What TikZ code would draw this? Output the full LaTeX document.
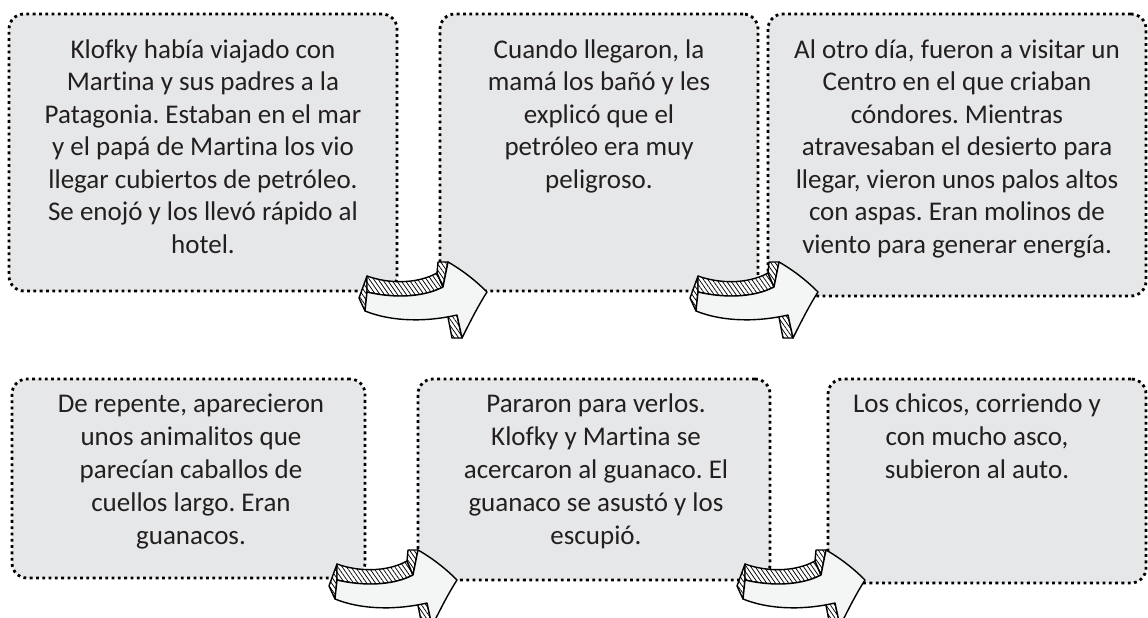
\documentclass[tikz,border=0pt]{standalone}
\usepackage{fontspec}
\setmainfont{Carlito}[Ligatures=CommonOff]
\usetikzlibrary{patterns.meta}
\frenchspacing
\definecolor{boxgray}{HTML}{E6E7E8}
\definecolor{arrowwhite}{HTML}{F4F5F5}
\definecolor{inkgray}{HTML}{231F20}
\tikzset{
  storybox/.style={draw=black, fill=boxgray, line width=2.8pt, dash pattern=on 2.8pt off 3.5pt, rounded corners=15pt, inner sep=0pt},
  storytext/.style={anchor=north, inner sep=0pt, align=center, text=inkgray, font=\fontsize{27}{32.5}\selectfont},
  storytexttwo/.style={storytext, font=\fontsize{27}{33}\selectfont},
  arrowedge/.style={draw=black, line width=1.4pt, line join=round},
  sideface/.style={arrowedge, postaction={pattern={Lines[angle=-55,distance=3.6pt,line width=0.75pt]}}, fill=white},
}
% F1 (-120,0) F2 (-44,-5) F3 (-39,-30) F4 (0,0) F5 (-25,46) F6 (-30,23) F7 (-122,19)
\newcommand\storyarrow[2]{%
  \begin{scope}[shift={(#1,#2)}]
    % left end face
    \path[sideface] (-120,0) -- (-120,-16) -- (-128,6) -- (-122,19) -- cycle;
    % top face of shaft
    \path[sideface] (-120,0) .. controls (-95,6) and (-65,6) .. (-44,-5) -- (-50,-19) .. controls (-70,-8) and (-98,-8) .. (-120,-16) -- cycle;
    % upper barb face
    \path[sideface] (-44,-5) -- (-39,-30) -- (-49,-30) -- (-50,-19) -- cycle;
    % lower barb face
    \path[sideface] (-30,23) -- (-25,46) -- (-35,46) -- (-40,20) -- cycle;
    % front face
    \path[arrowedge, fill=arrowwhite] (-120,0) .. controls (-95,6) and (-65,6) .. (-44,-5) -- (-39,-30) .. controls (-25,-22) and (-12,-12) .. (0,0) .. controls (-9,14) and (-17,30) .. (-25,46) -- (-30,23) .. controls (-60,30) and (-95,30) .. (-122,19) -- cycle;
  \end{scope}}
\begin{document}
\begin{tikzpicture}[x=1pt,y=-1pt]
\useasboundingbox (0,0) rectangle (1148,618);
% row 1 boxes
\node[storybox, minimum width=388pt, minimum height=277pt] (b1) at (203,152.5) {};
\node[storybox, minimum width=318pt, minimum height=277pt] (b2) at (599,152.5) {};
\node[storybox, minimum width=378pt, minimum height=282pt] (b3) at (957,155) {};
% row 2 boxes
\node[storybox, minimum width=353pt, minimum height=199pt] (b4) at (188.5,478.5) {};
\node[storybox, minimum width=352pt, minimum height=201pt] (b5) at (594,479.5) {};
\node[storybox, minimum width=318pt, minimum height=204pt] (b6) at (987,481) {};
% texts
\node[storytext] (t1) at (203,38) {\rule{0pt}{20pt}Klofky había viajado con\\Martina y sus padres a la\\Patagonia. Estaban en el mar\\y el papá de Martina los vio\\llegar cubiertos de petróleo.\\Se enojó y los llevó rápido al\\hotel.};
\node[storytext] (t2) at (599,38) {\rule{0pt}{20pt}Cuando llegaron, la\\mamá los bañó y les\\explicó que el\\petróleo era muy\\peligroso.};
\node[storytext] (t3) at (957,38) {\rule{0pt}{20pt}Al otro día, fueron a visitar un\\Centro en el que criaban\\cóndores. Mientras\\atravesaban el desierto para\\llegar, vieron unos palos altos\\con aspas. Eran molinos de\\viento para generar energía.};
\node[storytexttwo] (t4) at (191,392) {\rule{0pt}{20pt}De repente, aparecieron\\unos animalitos que\\parecían caballos de\\cuellos largo. Eran\\guanacos.};
\node[storytexttwo] (t5) at (596,392) {\rule{0pt}{20pt}Pararon para verlos.\\Klofky y Martina se\\acercaron al guanaco. El\\guanaco se asustó y los\\escupió.};
\node[storytexttwo] (t6) at (977,392) {\rule{0pt}{20pt}Los chicos, corriendo y\\con mucho asco,\\subieron al auto.};
% arrows
\storyarrow{487}{292}
\storyarrow{818}{292}
\storyarrow{457}{580}
\storyarrow{865}{580}
\end{tikzpicture}
\end{document}
